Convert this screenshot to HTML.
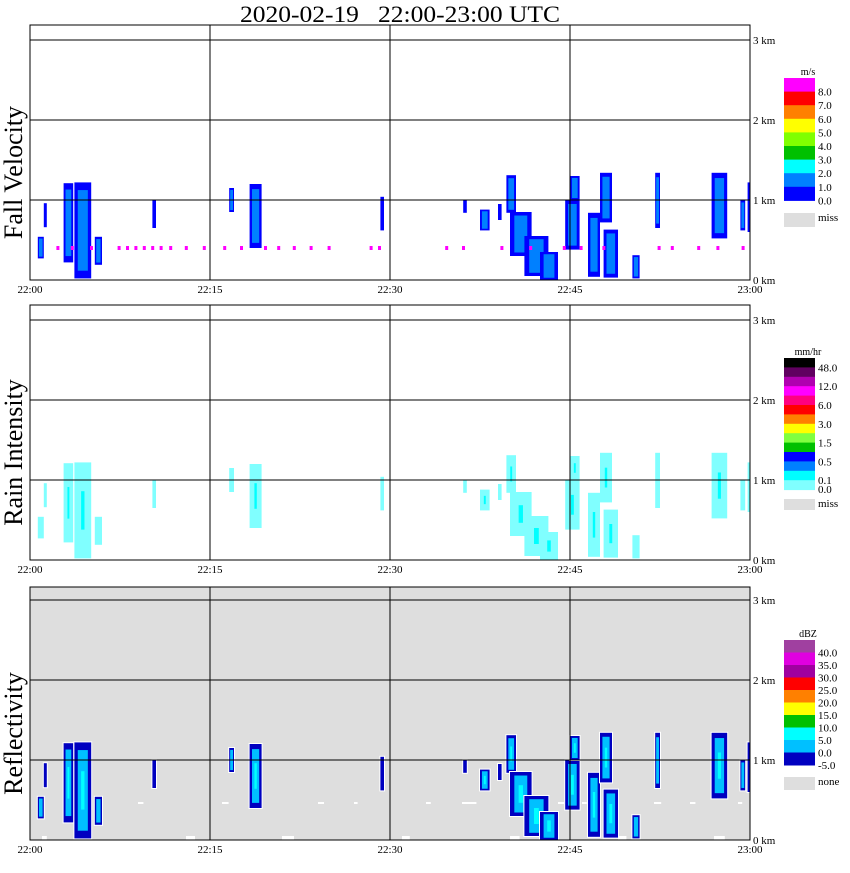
<!DOCTYPE html>
<html><head><meta charset="utf-8"><style>
body{margin:0;background:#fff;}
svg text{font-family:"Liberation Serif",serif;}
</style></head><body>
<svg id="c" width="850" height="868" xmlns="http://www.w3.org/2000/svg">
<text x="240" y="22" font-size="23" textLength="320" lengthAdjust="spacingAndGlyphs" style="white-space:pre" xml:space="preserve">2020-02-19   22:00-23:00 UTC</text>
</svg>
<script>
// Echo clusters (time in minutes after 22:00, heights in km)
const cellStart = [0.65,1.15,2.8,3.7,5.4,10.2,16.6,18.3,29.2,36.1,37.5,39.0,39.7,40.0,41.2,42.5,44.6,45.0,46.5,47.5,47.8,50.2,52.1,56.8,59.2,59.8];
const cellEnd   = [1.15,1.4,3.6,5.1,6.0,10.5,17.0,19.3,29.5,36.4,38.3,39.3,40.5,41.8,43.2,44.0,45.8,45.8,47.5,48.5,49.0,50.8,52.5,58.1,59.6,60.0];
const cellBase  = [0.27,0.66,0.22,0.02,0.19,0.65,0.85,0.40,0.62,0.84,0.62,0.75,0.84,0.30,0.05,0.00,0.38,1.00,0.04,0.72,0.03,0.02,0.65,0.52,0.62,0.60];
const cellTop   = [0.54,0.96,1.21,1.22,0.54,1.00,1.15,1.20,1.04,1.00,0.88,0.95,1.31,0.85,0.55,0.35,1.00,1.30,0.84,1.34,0.63,0.31,1.34,1.34,1.00,1.22];
const pinkDots  = [2.2,3.4,5.0,7.3,8.0,8.7,9.4,10.1,10.8,11.6,12.9,14.4,16.1,17.5,19.5,20.6,21.9,23.3,24.8,28.3,29.0,34.6,36.0,39.2,41.6,44.4,45.8,47.7,52.3,53.4,55.6,57.2,59.3];
const noiseT = [1,4,9,13,16,19,21,24,27,31,33,36,40,44,46,49,52,55,57,59];
const noiseW = [0.8,1.2,0.9,1.5,1.1,0.7,2.0,1.0,0.6,1.3,0.8,2.4,1.6,1.0,0.8,1.4,1.2,0.9,1.8,0.7];
const panelNames = ["Fall Velocity","Rain Intensity","Reflectivity"];
const xTicks = ["22:00","22:15","22:30","22:45","23:00"];
const kmTicks = ["0 km","1 km","2 km","3 km"];
const fvColors = ["#ff00ff","#ff0000","#ff8000","#ffff00","#80ff00","#00c000","#00ffff","#0080ff","#0000ff"];
const fvLabels = ["8.0","7.0","6.0","5.0","4.0","3.0","2.0","1.0","0.0"];
const riColors = ["#000000","#600060","#b000b0","#ff00ff","#ff0080","#ff0000","#ff8000","#ffff00","#80ff40","#00c000","#0000ff","#0080ff","#00ffff","#80ffff"];
const riLabels = ["48.0","","12.0","","6.0","","3.0","","1.5","","0.5","","0.1",""];
const dbColors = ["#a040a0","#e000e0","#a000a0","#ff0000","#ff8000","#ffff00","#00c000","#00ffff","#00c0ff","#0000c0"];
const dbLabels = ["40.0","35.0","30.0","25.0","20.0","15.0","10.0","5.0","0.0","-5.0"];

const svg=document.getElementById('c');
const NS="http://www.w3.org/2000/svg";
function el(t,a,p){const e=document.createElementNS(NS,t);for(const k in a)e.setAttribute(k,a[k]);(p||svg).appendChild(e);return e;}
const X0=30,X1=750;
function xs(t){return X0+t*(X1-X0)/60;}
const panels=[{top:25,bot:280},{top:305,bot:560},{top:587,bot:840}];
function ys(p,h){return panels[p].bot-h*80;}
const edge=["#0000ff","#80ffff","#0000c0"];
const core=["#0080ff","#80ffff","#00c0ff"];
const core2=["#0080ff","#00ffff","#00ffff"];

panels.forEach((P,pi)=>{
  const g=el('g',{});
  
  
  if(pi===2){
    const bg=el('rect',{x:X0,y:P.top,width:X1-X0,height:P.bot-P.top,fill:'#dedede'},g);
    
    
    noiseT.forEach((t,i)=>{
      const r=el('rect',{x:xs(t),y:P.bot-(i%3===0?4:38),width:noiseW[i]*6,height:(i%3===0?4:2),fill:'#fff'},g);
      
      
    });
  }
  cellStart.forEach((s,i)=>{
    const x=xs(s),w=Math.max(2,xs(cellEnd[i])-x),y=ys(pi,cellTop[i]),h=ys(pi,cellBase[i])-y;
    if(pi===2){const halo=el('rect',{x:x-1,y:y-1,width:w+2,height:h+2,fill:'#fff'},g);
      
      }
    const r=el('rect',{x:x,y:y,width:w,height:h,fill:edge[pi]},g);
    
    
    if(w>4&&h>8){
      const c=el('rect',{x:x+w*0.2,y:y+h*0.08,width:w*0.6,height:h*0.84,fill:core[pi]},g);
      
      
      if(w>9){const c2=el('rect',{x:x+w*0.4,y:y+h*0.3,width:w*0.2,height:h*0.4,fill:core2[pi]},g);
        
        }
    }
  });
  if(pi===0){
    pinkDots.forEach(t=>{
      const d=el('rect',{x:xs(t),y:ys(0,0.4)-2,width:3,height:4,fill:'#ff00ff'},g);
      
      
    });
  }
  for(let k=1;k<=3;k++){el('line',{x1:X0,x2:X1,y1:ys(pi,k),y2:ys(pi,k),stroke:'#000','stroke-width':1},g);}
  for(let k=1;k<4;k++){el('line',{x1:X0+k*180,x2:X0+k*180,y1:P.top,y2:P.bot,stroke:'#000','stroke-width':1},g);}
  el('rect',{x:X0,y:P.top,width:X1-X0,height:P.bot-P.top,fill:'none',stroke:'#000','stroke-width':1},g);
  kmTicks.forEach((k,i)=>{
    const t=el('text',{x:753,y:ys(pi,i)+4,'font-size':11},g);t.textContent=k;
    
    
  });
  xTicks.forEach((k,i)=>{
    const t=el('text',{x:X0+i*180,y:P.bot+13,'font-size':11,'text-anchor':'middle'},g);t.textContent=k;
    
    
  });
  const cy=(P.top+P.bot)/2+20;
  const tt=el('text',{x:22,y:cy,'font-size':26,'text-anchor':'middle',transform:`rotate(-90 22 ${cy})`},g);
  tt.textContent=panelNames[pi];
  
  
});

function legend(top,bh,colors,labels,unit,miss,missY,missH,name){
  const g=el('g',{});
  
  
  const u=el('text',{x:808,y:top-3,'font-size':10,'text-anchor':'middle'},g);u.textContent=unit;
  colors.forEach((c,i)=>{
    const r=el('rect',{x:784,y:top+i*bh,width:31,height:bh+0.5,fill:c},g);
    
    
  });
  labels.forEach((l,i)=>{
    if(!l)return;
    const t=el('text',{x:818,y:top+(i+1)*bh+4,'font-size':11},g);t.textContent=l;
    
    
  });
  const m=el('rect',{x:784,y:missY,width:31,height:missH,fill:'#dedede'},g);
  
  
  const mt=el('text',{x:818,y:missY+8,'font-size':11},g);mt.textContent=miss;
  return g;
}
legend(78,13.6,fvColors,fvLabels,"m/s","miss",213,14,"legend-fall-velocity");
const lg2=legend(358,9.4,riColors,riLabels,"mm/hr","miss",499,11,"legend-rain-intensity");
(function(){const t=el('text',{x:818,y:493,'font-size':11},lg2);t.textContent="0.0";})();
legend(640,12.5,dbColors,dbLabels,"dBZ","none",777,13,"legend-reflectivity");
</script>
</body></html>
